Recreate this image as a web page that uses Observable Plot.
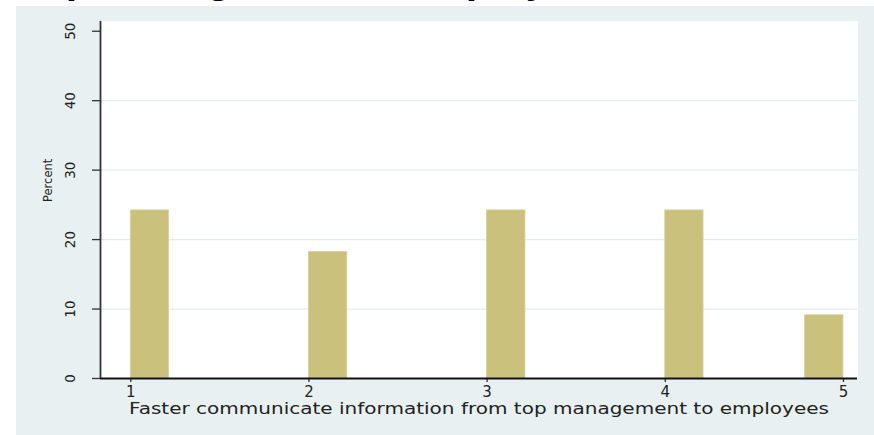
<!DOCTYPE html>
<html><head><meta charset="utf-8">
<script src="https://cdn.jsdelivr.net/npm/d3@7"></script>
<script src="https://cdn.jsdelivr.net/npm/@observablehq/plot@0.6"></script>
<style>
html,body{margin:0;padding:0;background:#fff;}
#wrap{position:relative;width:874px;height:435px;overflow:hidden;}
#bg{position:absolute;left:16px;top:6px;right:0;bottom:0;background:#e8f0f2;}
#chart{position:absolute;left:0;top:0;}
</style></head><body>
<div id="wrap"><div id="bg"></div><div id="chart"></div></div>
<script>
// data
const categories = [1, 2, 3, 4, 5];
const binStart = [1, 2, 3, 4, 4.785];
const binEnd = [1.215, 2.215, 3.215, 4.215, 5];
const percent = [24.2, 18.2, 24.2, 24.2, 9.1];
const yTicks = [0, 10, 20, 30, 40, 50];
const yGrid = [10, 20, 30, 40];
const xTicks = [1, 2, 3, 4, 5];
const xLabel = "Faster communicate information from top management to employees";
const yLabel = "Percent";
const titleText = "Faster communicate information from top management to employees";

const bars = categories.map((c, i) => ({cat: c, x1: binStart[i], x2: binEnd[i], pct: percent[i]}));
const xDomain = [0.83, 5.079];
const yDomain = [0, 51.4];

const chart = Plot.plot({
  width: 874,
  height: 435,
  marginLeft: 100,
  marginRight: 17,
  marginTop: 21,
  marginBottom: 57,
  x: {domain: xDomain},
  y: {domain: yDomain},
  style: {background: "transparent", fontFamily: "DejaVu Sans", color: "#222"},
  marks: [
    Plot.frame({fill: "white", stroke: "white"}),
    Plot.gridY(yGrid, {stroke: "#e3edf0", strokeOpacity: 1, strokeWidth: 1.2}),
    Plot.rect(bars, {x1: "x1", x2: "x2", y1: 0, y2: "pct", fill: "#c9c17c", stroke: "#d6d09a", strokeWidth: 0.8}),
    Plot.axisY({ticks: yTicks, tickSize: 8, tickRotate: -90, tickPadding: 18, fontSize: 13.5, tickFormat: d3.format("d"), label: null, stroke: "#333", strokeWidth: 1.3}),
    Plot.axisX({ticks: xTicks, tickSize: 4, tickPadding: 4, fontSize: 15, tickFormat: d3.format("d"), label: null, stroke: "#333", strokeWidth: 1.3}),
    Plot.ruleX([xDomain[0]], {stroke: "#333", strokeWidth: 1.8}),
    Plot.ruleY([0], {stroke: "#111", strokeWidth: 2}),
    Plot.text([xLabel], {frameAnchor: "bottom", dy: 31, lineAnchor: "middle", fontSize: 15, fill: "#222", text: d => d, className: "xlab"}),
    Plot.text([yLabel], {frameAnchor: "left", dx: -52, dy: 2, rotate: -90, fontSize: 11.5, fill: "#222", text: d => d}),
    Plot.text([titleText], {frameAnchor: "top-right", dx: -239, dy: -41.5, textAnchor: "end", lineAnchor: "middle", fontSize: 40, fontWeight: "bold", fontStyle: "italic", fontFamily: "Liberation Sans", fill: "#000", text: d => d})
  ]
});
document.getElementById("chart").appendChild(chart);
const xl = chart.querySelector(".xlab text");
if (xl) { xl.setAttribute("textLength", 700); xl.setAttribute("lengthAdjust", "spacingAndGlyphs"); }
</script>
</body></html>
